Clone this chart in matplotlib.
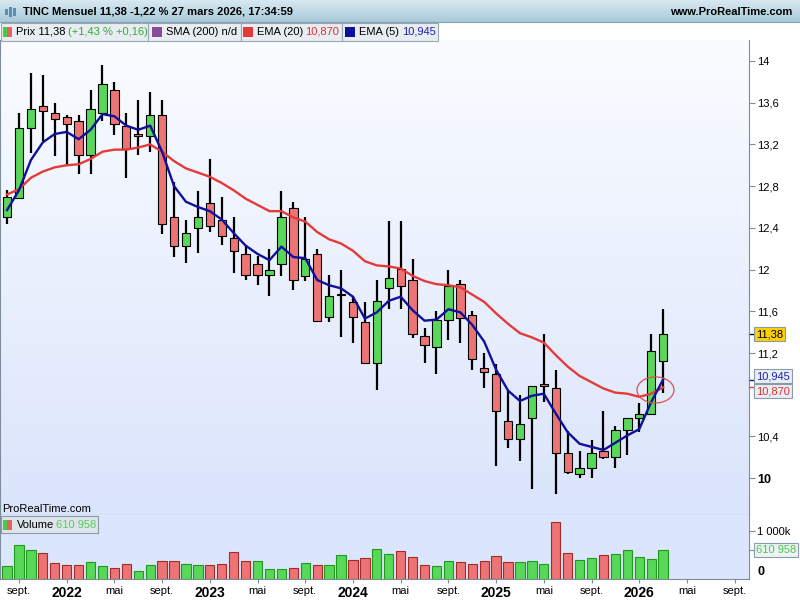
import numpy as np
import matplotlib.pyplot as plt
import matplotlib.transforms as mtransforms
from matplotlib.patches import Rectangle, Ellipse
from matplotlib.colors import LinearSegmentedColormap

plt.rcParams['font.family'] = ['Liberation Sans', 'DejaVu Sans']

# Monthly candles TINC, Aug 2021 -> Mar 2026 (index 0 = Aug 2021)
opens = [12.50, 12.69, 13.36, 13.57, 13.50, 13.46, 13.42, 13.10, 13.50, 13.72,
         13.38, 13.30, 13.28, 13.48, 12.50, 12.23, 12.40, 12.64, 12.48, 12.30,
         12.15, 12.05, 11.95, 12.05, 12.59, 11.94, 12.15, 11.55, 11.76, 11.69,
         11.50, 11.10, 11.82, 12.01, 11.90, 11.36, 11.26, 11.52, 11.86, 11.56,
         11.06, 11.00, 10.55, 10.38, 10.58, 10.90, 10.86, 10.24, 10.04, 10.10,
         10.26, 10.20, 10.46, 10.58, 10.62, 11.12]
highs = [12.76, 13.50, 13.88, 13.87, 13.60, 13.48, 13.48, 13.72, 13.96, 13.80,
         13.50, 13.63, 13.70, 13.63, 12.84, 12.48, 12.75, 13.06, 12.70, 12.50,
         12.24, 12.13, 12.20, 12.75, 12.65, 12.50, 12.20, 11.95, 12.00, 11.75,
         11.69, 11.90, 12.47, 12.47, 12.10, 11.44, 11.60, 12.00, 11.90, 11.60,
         11.20, 11.09, 10.85, 10.80, 10.88, 11.38, 11.04, 10.45, 10.26, 10.37,
         10.64, 10.50, 10.58, 10.72, 11.38, 11.62]
lows = [12.44, 12.68, 13.12, 13.23, 13.09, 13.00, 12.92, 12.92, 13.42, 13.29,
        12.88, 13.10, 13.13, 12.34, 12.12, 12.06, 12.16, 12.36, 12.24, 11.97,
        11.90, 11.85, 11.75, 11.94, 11.80, 11.89, 11.50, 11.50, 11.35, 11.30,
        11.10, 10.85, 11.62, 11.62, 11.34, 11.10, 11.00, 11.32, 11.30, 11.04,
        10.86, 10.12, 10.29, 10.16, 9.90, 10.73, 9.85, 10.04, 10.00, 10.00,
        10.18, 10.10, 10.22, 10.44, 10.62, 10.82]
closes = [12.70, 13.36, 13.54, 13.52, 13.44, 13.40, 13.10, 13.54, 13.78, 13.40,
          13.16, 13.28, 13.48, 12.44, 12.23, 12.35, 12.50, 12.42, 12.32, 12.18,
          11.95, 11.95, 12.00, 12.50, 11.90, 12.10, 11.51, 11.75, 11.76, 11.55,
          11.10, 11.70, 11.92, 11.84, 11.38, 11.28, 11.52, 11.84, 11.54, 11.14,
          11.02, 10.64, 10.38, 10.52, 10.88, 10.88, 10.24, 10.06, 10.10, 10.24,
          10.20, 10.46, 10.58, 10.62, 11.22, 11.38]
ema20 = [12.72, 12.77, 12.88, 12.94, 12.98, 13.00, 13.01, 13.06, 13.13, 13.15,
         13.15, 13.17, 13.20, 13.13, 13.04, 12.97, 12.93, 12.89, 12.83, 12.76,
         12.68, 12.62, 12.56, 12.56, 12.50, 12.46, 12.36, 12.29, 12.25, 12.18,
         12.08, 12.04, 12.03, 12.01, 11.94, 11.89, 11.86, 11.85, 11.83, 11.76,
         11.69, 11.58, 11.48, 11.39, 11.35, 11.30, 11.18, 11.07, 10.98, 10.92,
         10.86, 10.82, 10.81, 10.78, 10.81, 10.87]
ema5 = [12.57, 12.76, 13.05, 13.22, 13.30, 13.32, 13.25, 13.34, 13.49, 13.47,
        13.38, 13.34, 13.38, 13.13, 12.80, 12.65, 12.60, 12.56, 12.48, 12.35,
        12.23, 12.15, 12.09, 12.22, 12.12, 12.11, 11.90, 11.85, 11.82, 11.74,
        11.53, 11.59, 11.70, 11.74, 11.61, 11.51, 11.52, 11.62, 11.59, 11.47,
        11.31, 11.04, 10.84, 10.74, 10.79, 10.81, 10.62, 10.44, 10.33, 10.30,
        10.27, 10.34, 10.41, 10.47, 10.73, 10.945]
volumes = [269, 703, 600, 545, 331, 290, 290, 352, 269, 228,
           310, 166, 290, 372, 372, 310, 290, 290, 310, 559,
           372, 372, 207, 207, 228, 331, 290, 290, 497, 393,
           434, 621, 517, 579, 455, 290, 269, 372, 352, 310,
           372, 476, 352, 352, 372, 310, 1179, 538, 393, 434,
           497, 517, 600, 455, 414, 611]  # thousands
vol_up = 'GGGRRRRGGRRGGRRGGRRRRGGGRGRGGRRGGRRRGGRRRRRGGGRRGGRGGGGG'

tick_labels = ['sept.', '2022', 'mai', 'sept.', '2023', 'mai', 'sept.', '2024',
               'mai', 'sept.', '2025', 'mai', 'sept.', '2026', 'mai', 'sept.']
tick_pos = [1 + 4 * k for k in range(len(tick_labels))]
price_ticks = [10, 10.4, 11.2, 11.6, 12, 12.4, 12.8, 13.2, 13.6, 14]

GREEN, RED = '#58d858', '#ec7474'
GRID = '#7d8d99'

fig = plt.figure(figsize=(8, 6), dpi=100)
fig.patch.set_facecolor('white')
W, H = 800, 600


def fig_rect(x0, y0, x1, y1):
    return [x0 / W, 1 - y1 / H, (x1 - x0) / W, (y1 - y0) / H]


def paint(axis, top, bottom):
    cmap = LinearSegmentedColormap.from_list('bg', [top, bottom])
    axis.imshow(np.linspace(0, 1, 200).reshape(-1, 1), cmap=cmap, aspect='auto',
                extent=(0, 1, 0, 1), transform=axis.transAxes, zorder=-5)


# --- price panel
ax = fig.add_axes(fig_rect(0, 40, 749, 515))
paint(ax, '#fafcff', '#dae4fb')
x = np.arange(len(closes))
o = np.array(opens)
c = np.array(closes)
up = c >= o
ax.vlines(x, lows, highs, color='black', lw=1.6, zorder=2)
ax.bar(x, np.maximum(np.abs(c - o), 0.004), 0.7, bottom=np.minimum(o, c),
       color=np.where(up, GREEN, RED), edgecolor='black', lw=0.8, zorder=3)
ax.plot(x, ema20, color='#e53a3a', lw=1.7, zorder=4)
ax.plot(x, ema5, color='#10109c', lw=1.7, zorder=5)
ax.add_patch(Ellipse((54.36, 10.846), 3.1, 0.25, fill=False,
                     edgecolor='#e05050', lw=0.9, zorder=6))

ax.set_xlim(-0.59, 62.2)
ax.set_ylim(9.647, 14.201)
ax.set_xticks([])
ax.yaxis.tick_right()
ax.set_yticks(price_ticks)
ax.set_yticklabels([f'{t:g}'.replace('.', ',') for t in price_ticks], fontsize=8)
for lbl in ax.get_yticklabels():
    if lbl.get_text() == '10':
        lbl.set_fontweight('bold')
        lbl.set_fontsize(9)
ax.tick_params(axis='y', direction='out', length=4, color=GRID, pad=2)
ax.spines['top'].set_visible(False)
for s in ['left', 'right', 'bottom']:
    ax.spines[s].set_color(GRID)

tr = mtransforms.blended_transform_factory(ax.transAxes, ax.transData)
for val, col in [(closes[-1], 'black'), (ema5[-1], '#10109c'), (ema20[-1], '#e53a3a')]:
    ax.plot([1.0, 1.008], [val, val], transform=tr, clip_on=False, color=col, lw=1)
ax.annotate('11,38', xy=(1.0, closes[-1]), xycoords=tr, xytext=(5, 0),
            textcoords='offset points', fontsize=8, va='center', ha='left',
            bbox=dict(boxstyle='square,pad=0.18', fc='#ffd000', ec='#8a9aa6', lw=0.8))
ax.annotate('10,945', xy=(1.0, ema5[-1]), xycoords=tr, xytext=(5, 2.6),
            textcoords='offset points', fontsize=8, va='center', ha='left', color='#2020b0',
            bbox=dict(boxstyle='square,pad=0.18', fc='#e8eef6', ec='#8a9aa6', lw=0.8))
ax.annotate('10,870', xy=(1.0, ema20[-1]), xycoords=tr, xytext=(5, -2.9),
            textcoords='offset points', fontsize=8, va='center', ha='left', color='#e03030',
            bbox=dict(boxstyle='square,pad=0.18', fc='#e8eef6', ec='#8a9aa6', lw=0.8))

# --- volume panel
axv = fig.add_axes(fig_rect(0, 515, 749, 579.3))
axv.set_facecolor('#dbe5fb')
vcol = [GREEN if f == 'G' else RED for f in vol_up]
vedge = ['#1f9a1f' if f == 'G' else '#a52a2a' for f in vol_up]
axv.bar(x, np.array(volumes) * 1000, 0.78, color=vcol, edgecolor=vedge, lw=0.8)
axv.set_xlim(-0.59, 62.2)
axv.set_ylim(0, 1331000)
axv.yaxis.tick_right()
axv.set_yticks([1000000, volumes[-1] * 1000])
axv.set_yticklabels(['1 000k', ''], fontsize=8)
axv.tick_params(axis='y', direction='out', length=4, color=GRID, pad=2)
axv.get_yticklines()[3].set_color('#55cc55')
axv.set_xticks(tick_pos)
axv.set_xticklabels(tick_labels, fontsize=8)
for lbl in axv.get_xticklabels():
    if lbl.get_text().isdigit():
        lbl.set_fontweight('bold')
        lbl.set_fontsize(10)
axv.tick_params(axis='x', direction='out', length=3, color=GRID, pad=2)
axv.spines['top'].set_visible(False)
for s in ['left', 'right', 'bottom']:
    axv.spines[s].set_color(GRID)
trv = mtransforms.blended_transform_factory(axv.transAxes, axv.transData)
axv.text(1.011, 150000, '0', transform=trv, fontsize=9, fontweight='bold', va='center')
axv.annotate('610 958', xy=(1.0, volumes[-1] * 1000), xycoords=trv, xytext=(5, 0),
             textcoords='offset points', fontsize=8, va='center', ha='left', color='#44cc44',
             bbox=dict(boxstyle='square,pad=0.18', fc='#eef2f6', ec='#8a9aa6', lw=0.8))

# --- header, legends (overlay in pixel coordinates)
ov = fig.add_axes([0, 0, 1, 1], zorder=10)
ov.patch.set_visible(False)
hdr = LinearSegmentedColormap.from_list('hdr', ['#d8e9f0', '#a8cad8'])
ov.imshow(np.linspace(0, 1, 50).reshape(-1, 1), cmap=hdr, aspect='auto', extent=(0, 800, 22, 0))
ov.plot([0, 800], [22, 22], color='#8aa2ae', lw=0.8)
for bx, bh in [(5, 6), (9, 10), (13, 8)]:
    ov.add_patch(Rectangle((bx, 12 - bh / 2), 2.5, bh, fc='#5b8db5', ec='none'))
ov.text(23, 12, 'TINC Mensuel 11,38 -1,22 % 27 mars 2026, 17:34:59', fontsize=8,
        fontweight='bold', va='center', ha='left')
ov.text(792, 12, 'www.ProRealTime.com', fontsize=8, fontweight='bold', va='center', ha='right')

for x0, x1 in [(0, 147.5), (147.5, 240), (240, 341.7), (341.7, 437.3)]:
    ov.add_patch(Rectangle((x0 + 0.5, 22.5), x1 - x0, 18, fc='#e8edf1', ec='#98a8b4', lw=0.8))
ov.add_patch(Rectangle((2.5, 26.5), 4.5, 10, fc='#44cc44', ec='none'))
ov.add_patch(Rectangle((7, 26.5), 4.5, 10, fc='#e86060', ec='none'))
ov.add_patch(Rectangle((152, 26.5), 9.5, 10, fc='#8a4a9c', ec='none'))
ov.add_patch(Rectangle((243, 26.5), 10, 10, fc='#e53a3a', ec='none'))
ov.add_patch(Rectangle((345, 26.5), 10, 10, fc='#10109c', ec='none'))
ov.text(16, 32, 'Prix 11,38', fontsize=8, va='center')
ov.text(68.5, 32, '(+1,43 % +0,16)', fontsize=8, va='center', color='#35a835')
ov.text(166, 32, 'SMA (200) n/d', fontsize=8, va='center')
ov.text(257, 32, 'EMA (20)', fontsize=8, va='center')
ov.text(305, 32, '10,870', fontsize=8, va='center', color='#e03030')
ov.text(359, 32, 'EMA (5)', fontsize=8, va='center')
ov.text(402.5, 32, '10,945', fontsize=8, va='center', color='#2020b0')

ov.text(2, 508.5, 'ProRealTime.com', fontsize=8, va='center')
ov.add_patch(Rectangle((0.5, 516), 97, 17, fc='#dde4ec', ec='#8c9ba6', lw=0.8))
ov.add_patch(Rectangle((2.5, 519.5), 4.5, 10, fc='#44cc44', ec='none'))
ov.add_patch(Rectangle((7, 519.5), 4.5, 10, fc='#e86060', ec='none'))
ov.text(16.5, 525, 'Volume', fontsize=8, va='center')
ov.text(55.5, 525, '610 958', fontsize=8, va='center', color='#55d055')

ov.set_xlim(0, 800)
ov.set_ylim(600, 0)
ov.axis('off')

fig.savefig('out.png', dpi=100)
